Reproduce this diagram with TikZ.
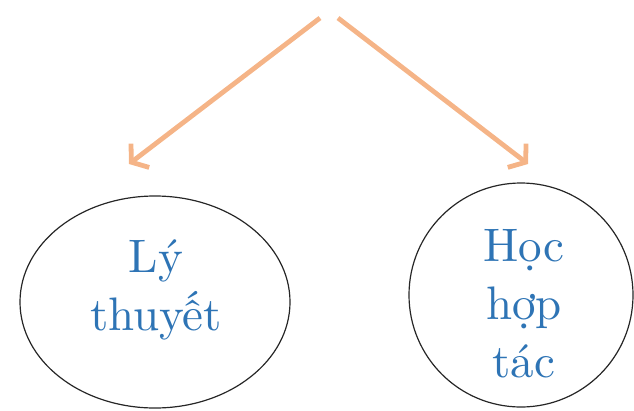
\documentclass[tikz,border=0pt]{standalone}
\usepackage{fontspec}
\setmainfont{lmroman10-regular.otf}
\usetikzlibrary{arrows.meta,shapes.geometric}
\definecolor{arrowc}{RGB}{245,180,135}
\definecolor{textc}{RGB}{46,116,181}
\tikzset{
  oval/.style={draw=black!85, line width=1.2pt, ellipse, inner sep=0pt},
  lbl/.style={text=textc, align=center, font=\fontsize{47}{58}\selectfont, inner sep=0pt},
  arr/.style={draw=arrowc, line width=4.8pt, -{Straight Barb[length=11pt,width=30pt]}}
}
\begin{document}
\begin{tikzpicture}[x=1pt,y=-1pt]
\useasboundingbox (0,0) rectangle (634,410);
\node[oval, minimum width=270pt, minimum height=212pt] (L) at (155,302) {};
\node[oval, minimum width=224pt, minimum height=224pt] (R) at (521,295) {};
\node[lbl] (Lt) at (156,290) {Lý\\thuyết};
\node[lbl] (Rt) at (524,304) {Học\\hợp\\tác};
\coordinate (s1) at (320,18);
\coordinate (s2) at (338,18);
\coordinate (e1) at (129,164);
\coordinate (e2) at (528,164);
\draw[arr] (s1) -- (e1);
\draw[arr] (s2) -- (e2);
\end{tikzpicture}
\end{document}
